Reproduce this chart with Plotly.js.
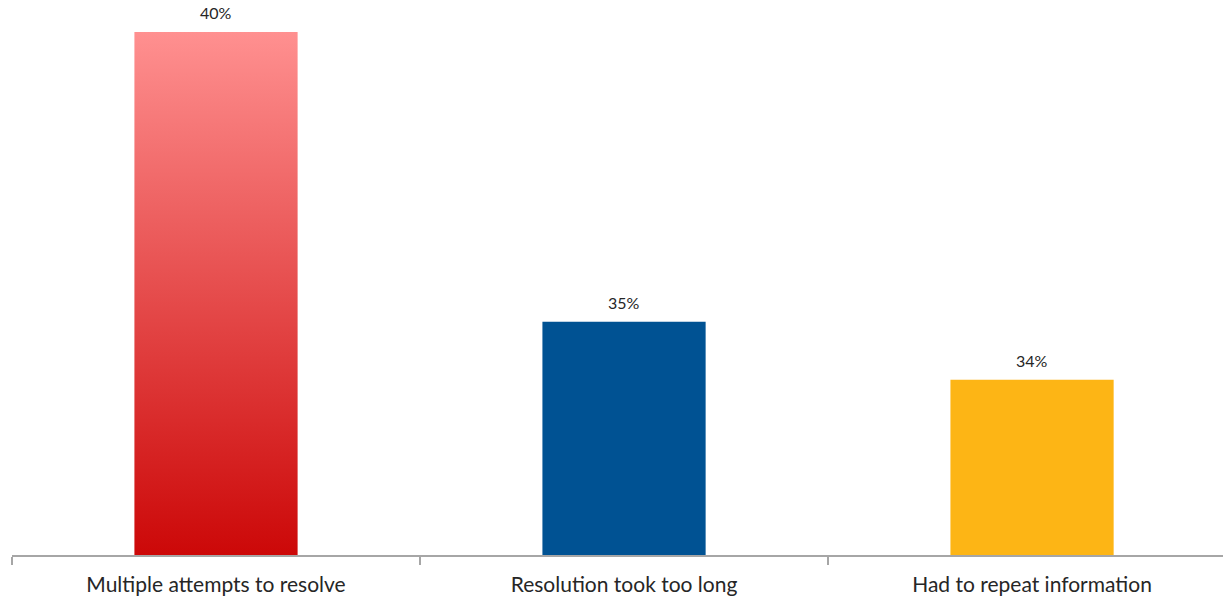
<!DOCTYPE html>
<html>
<head>
<meta charset="utf-8">
<script src="https://cdn.plot.ly/plotly-3.0.1.min.js"></script>
<style>
  html, body { margin: 0; padding: 0; background: #fff; }
  #chart { width: 1223px; height: 598px; }
</style>
</head>
<body>
<div id="chart"></div>
<script>
const categories = ["Multiple attempts to resolve", "Resolution took too long", "Had to repeat information"];
const values = [40, 35, 34];
const labels = ["40%", "35%", "34%"];
const barColors = ["#E84848", "#005293", "#FDB515"];

const trace = {
  type: "bar",
  x: categories,
  y: values,
  width: 0.4,
  marker: { color: barColors, line: { width: 0 } },
  hoverinfo: "none"
};

const annotations = categories.map(function (c, i) {
  return {
    x: c, y: values[i], xref: "x", yref: "y",
    text: labels[i], showarrow: false,
    yanchor: "bottom", yshift: 8,
    font: { family: "Lato, 'Open Sans', sans-serif", size: 16, color: "#262626" }
  };
});

const layout = {
  width: 1223,
  height: 598,
  margin: { l: 12, r: 0, t: 0, b: 43 },
  paper_bgcolor: "#ffffff",
  plot_bgcolor: "#ffffff",
  showlegend: false,
  annotations: annotations,
  xaxis: {
    type: "category",
    range: [-0.5, 2.468],
    showline: true,
    linecolor: "#A6A6A6",
    linewidth: 1.5,
    ticks: "outside",
    tickson: "boundaries",
    ticklen: 8,
    tickcolor: "#A6A6A6",
    tickwidth: 1.5,
    ticklabelstandoff: 10,
    showgrid: false,
    zeroline: false,
    tickfont: { family: "Lato, 'Open Sans', sans-serif", size: 21, color: "#262626" },
    automargin: false
  },
  yaxis: {
    range: [30.98, 40.55],
    visible: false,
    showgrid: false,
    zeroline: false,
    fixedrange: true
  },
  font: { family: "Lato, 'Open Sans', sans-serif" }
};

Plotly.newPlot("chart", [trace], layout, { displayModeBar: false, staticPlot: true }).then(function (gd) {
  const svg = gd.querySelector("svg.main-svg");
  const ns = "http://www.w3.org/2000/svg";
  const firstBar = gd.querySelector(".barlayer .point path");
  if (!firstBar) return;
  const bb = firstBar.getBBox();
  const plotH = gd._fullLayout._size.h;
  let defs = svg.querySelector("defs");
  if (!defs) { defs = document.createElementNS(ns, "defs"); svg.insertBefore(defs, svg.firstChild); }
  const grad = document.createElementNS(ns, "linearGradient");
  grad.setAttribute("id", "barGrad1");
  grad.setAttribute("gradientUnits", "userSpaceOnUse");
  grad.setAttribute("x1", String(bb.x)); grad.setAttribute("y1", String(bb.y));
  grad.setAttribute("x2", String(bb.x)); grad.setAttribute("y2", String(plotH));
  const s1 = document.createElementNS(ns, "stop");
  s1.setAttribute("offset", "0"); s1.setAttribute("stop-color", "#FF9090");
  const s2 = document.createElementNS(ns, "stop");
  s2.setAttribute("offset", "1"); s2.setAttribute("stop-color", "#CC0808");
  grad.appendChild(s1); grad.appendChild(s2);
  defs.appendChild(grad);
  firstBar.setAttribute("fill", "url(#barGrad1)");
  firstBar.style.fill = "url(#barGrad1)";
  firstBar.style.fillOpacity = "1";
});
</script>
</body>
</html>
